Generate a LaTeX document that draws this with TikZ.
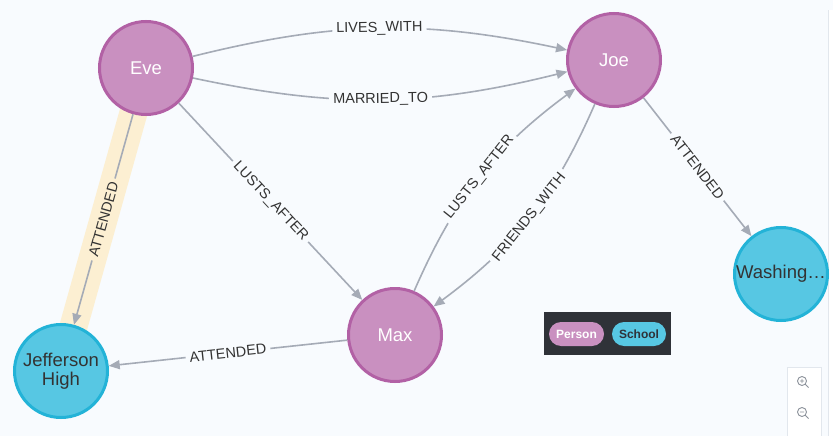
\documentclass[tikz,border=0pt]{standalone}
\usepackage{fontspec}
\setsansfont{Liberation Sans}
\usetikzlibrary{arrows.meta, positioning}
\definecolor{canvas}{HTML}{F8FBFE}
\definecolor{personFill}{HTML}{C990C0}
\definecolor{personLine}{HTML}{B261A5}
\definecolor{schoolFill}{HTML}{57C7E3}
\definecolor{schoolLine}{HTML}{23B3D7}
\definecolor{relGray}{HTML}{A5ABB6}
\definecolor{haloTint}{HTML}{FCEFD2}
\definecolor{ink}{HTML}{333333}
\definecolor{legendBg}{HTML}{2F3238}
\definecolor{panelLine}{HTML}{E2E7ED}
\definecolor{iconGray}{HTML}{8C929B}
\pgfdeclarelayer{back}
\pgfdeclarelayer{halo}
\pgfsetlayers{back,halo,main}

\begin{document}
\begin{tikzpicture}[
  x=1pt, y=-1pt,
  font=\sffamily,
  person/.style={circle, draw=personLine, fill=personFill, line width=3pt,
    minimum size=93pt, inner sep=0pt, text=white,
    font=\sffamily\fontsize{18.5}{19}\selectfont},
  school/.style={circle, draw=schoolLine, fill=schoolFill, line width=3pt,
    minimum size=93pt, inner sep=0pt, text=ink, align=center,
    font=\sffamily\fontsize{18.5}{19}\selectfont},
  rel/.style={-{Triangle[length=11pt, width=9pt]}, line width=1.6pt, draw=relGray},
  rellabel/.style={midway, sloped, fill=canvas, text=ink, inner xsep=4pt, inner ysep=0.5pt,
    font=\sffamily\fontsize{14.5}{15}\selectfont},
  pill/.style={rounded corners=12pt, minimum height=24pt, inner sep=0pt,
    font=\sffamily\bfseries\fontsize{12}{12}\selectfont},
]
  \useasboundingbox (0,0) rectangle (833,436);
  \begin{pgfonlayer}{back}
    \fill[canvas] (0,0) rectangle (833,436);
    \fill[white] (828,10) rectangle (833,436);
    \draw[panelLine, line width=1pt] (828,436) -- (828,10);
  \end{pgfonlayer}

  \node[person] (eve) at (146,68) {Eve};
  \node[person] (joe) at (614,60) {Joe};
  \node[person] (max) at (395,335) {Max};
  \node[school] (jeff) at (61,371) {Jefferson\\High};
  \node[school] (wash) at (781,274) {Washing\ldots};

  \begin{pgfonlayer}{halo}
    \draw[haloTint, line width=28pt] (eve.center) -- (jeff.center);
  \end{pgfonlayer}

  \draw[rel] (eve) to[bend left=13] node[rellabel] {LIVES\_WITH} (joe);
  \draw[rel] (eve) to[bend right=13] node[rellabel] {MARRIED\_TO} (joe);
  \draw[rel] (eve) -- node[rellabel] {LUSTS\_AFTER} (max);
  \draw[rel] (max) to[bend left=15] node[rellabel] {LUSTS\_AFTER} (joe);
  \draw[rel] (joe) to[bend left=15] node[rellabel] {FRIENDS\_WITH} (max);
  \draw[rel] (joe) -- node[rellabel] {ATTENDED} (wash);
  \draw[rel] (max) -- node[rellabel] {ATTENDED} (jeff);
  \draw[rel] (eve) -- node[rellabel, fill=haloTint] {ATTENDED} (jeff);

  \node[fill=legendBg, minimum width=127pt, minimum height=43pt, inner sep=0pt] (legend) at (607.5,333.5) {};
  \node[pill, fill=personFill, text=white, minimum width=55pt] (personKey) at (576.5,334) {Person};
  \node[pill, fill=schoolFill, text=legendBg, minimum width=54pt] (schoolKey) at (639,334) {School};

  \draw[panelLine, fill=white, line width=1pt] (787,437) -- (787,367) -- (821,367) -- (821,437);
  \draw[iconGray, line width=0.9pt] (802,381) circle (4.5) (805.3,384.3) -- (808.5,387.5)
    (799.8,381) -- (804.2,381) (802,378.8) -- (802,383.2);
  \draw[iconGray, line width=0.9pt] (802,412) circle (4.5) (805.3,415.3) -- (808.5,418.5)
    (799.8,412) -- (804.2,412);
\end{tikzpicture}
\end{document}
